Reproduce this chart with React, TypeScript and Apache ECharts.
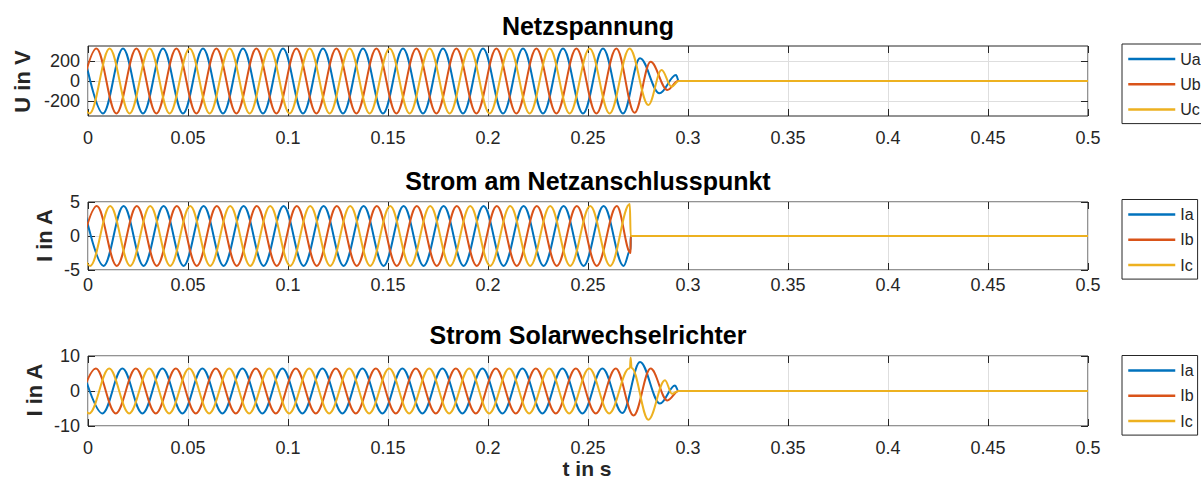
import React, { useEffect, useRef } from 'react';
import * as echarts from 'echarts';

// ---------- data (times in ms of successive extrema) ----------
const TIME_RANGE = [0, 0.5];
const TIME_STEP = 0.05;

// Netzspannung
const UA_T = [-2.5,7.5,17.5,27.5,37.5,47.5,57.5,67.5,77.5,87.5,97.5,107.5,117.5,127.5,137.5,147.5,157.5,167.5,177.5,187.5,197.5,207.5,217.5,227.5,237.5,247.5,257.5,267.5,276,285.7,294,295.4];
const UA_V = [325,-325,325,-325,325,-325,325,-325,325,-325,325,-325,325,-325,325,-325,325,-325,325,-325,325,-325,325,-325,325,-325,325,-325,227,-123,60,0];
const UB_T = [-5.8,4.2,14.2,24.2,34.2,44.2,54.2,64.2,74.2,84.2,94.2,104.2,114.2,124.2,134.2,144.2,154.2,164.2,174.2,184.2,194.2,204.2,214.2,224.2,234.2,244.2,254.2,264.2,273.3,281.3,289.7,295];
const UB_V = [-325,325,-325,325,-325,325,-325,325,-325,325,-325,325,-325,325,-325,325,-325,325,-325,325,-325,325,-325,325,-325,325,-325,325,-318,193,-90,0];
const UC_T = [-9.2,0.8,10.8,20.8,30.8,40.8,50.8,60.8,70.8,80.8,90.8,100.8,110.8,120.8,130.8,140.8,150.8,160.8,170.8,180.8,190.8,200.8,210.8,220.8,230.8,240.8,250.8,260.8,270.8,280.2,286.8,291.8,295.4];
const UC_V = [325,-325,325,-325,325,-325,325,-325,325,-325,325,-325,325,-325,325,-325,325,-325,325,-325,325,-325,325,-325,325,-325,325,-325,325,-240,110,-57,0];

// Strom am Netzanschlusspunkt
const IA2_T = [-2.2,7.8,17.8,27.8,37.8,47.8,57.8,67.8,77.8,87.8,97.8,107.8,117.8,127.8,137.8,147.8,157.8,167.8,177.8,187.8,197.8,207.8,217.8,227.8,237.8,247.8,257.8,267.8,271.3,271.35];
const IA2_V = [4.4,-4.4,4.4,-4.4,4.4,-4.4,4.4,-4.4,4.4,-4.4,4.4,-4.4,4.4,-4.4,4.4,-4.4,4.4,-4.4,4.4,-4.4,4.4,-4.4,4.4,-4.4,4.4,-4.4,4.4,-4.4,-2.0,0];
const IB2_T = [-5.6,4.4,14.4,24.4,34.4,44.4,54.4,64.4,74.4,84.4,94.4,104.4,114.4,124.4,134.4,144.4,154.4,164.4,174.4,184.4,194.4,204.4,214.4,224.4,234.4,244.4,254.4,264.4,271.3,271.35];
const IB2_V = [-4.4,4.4,-4.4,4.4,-4.4,4.4,-4.4,4.4,-4.4,4.4,-4.4,4.4,-4.4,4.4,-4.4,4.4,-4.4,4.4,-4.4,4.4,-4.4,4.4,-4.4,4.4,-4.4,4.4,-4.4,4.4,-2.5,0];
const IC2_T = [-8.9,1.1,11.1,21.1,31.1,41.1,51.1,61.1,71.1,81.1,91.1,101.1,111.1,121.1,131.1,141.1,151.1,161.1,171.1,181.1,191.1,201.1,211.1,221.1,231.1,241.1,251.1,261.1,270.9,271.35];
const IC2_V = [4.4,-4.4,4.4,-4.4,4.4,-4.4,4.4,-4.4,4.4,-4.4,4.4,-4.4,4.4,-4.4,4.4,-4.4,4.4,-4.4,4.4,-4.4,4.4,-4.4,4.4,-4.4,4.4,-4.4,4.4,-4.4,4.7,0];

// Strom Solarwechselrichter
const IA3_T = [-2.8,7.2,17.2,27.2,37.2,47.2,57.2,67.2,77.2,87.2,97.2,107.2,117.2,127.2,137.2,147.2,157.2,167.2,177.2,187.2,197.2,207.2,217.2,227.2,237.2,247.2,257.2,267.2,276,286,293.5,295.2];
const IA3_V = [6.4,-6.4,6.4,-6.4,6.4,-6.4,6.4,-6.4,6.4,-6.4,6.4,-6.4,6.4,-6.4,6.4,-6.4,6.4,-6.4,6.4,-6.4,6.4,-6.4,6.4,-6.4,6.4,-6.4,6.4,-6.3,8.3,-3.6,1.6,0];
const IB3_T = [-6.1,3.9,13.9,23.9,33.9,43.9,53.9,63.9,73.9,83.9,93.9,103.9,113.9,123.9,133.9,143.9,153.9,163.9,173.9,183.9,193.9,203.9,213.9,223.9,233.9,243.9,253.9,263.9,272.8,281.3,289.7,295.3];
const IB3_V = [-6.4,6.4,-6.4,6.4,-6.4,6.4,-6.4,6.4,-6.4,6.4,-6.4,6.4,-6.4,6.4,-6.4,6.4,-6.4,6.4,-6.4,6.4,-6.4,6.4,-6.4,6.4,-6.4,6.4,-6.4,6.4,-7.0,6.4,-2.7,0];
const IC3_T = [-9.4,0.6,10.6,20.6,30.6,40.6,50.6,60.6,70.6,80.6,90.6,100.6,110.6,120.6,130.6,140.6,150.6,160.6,170.6,180.6,190.6,200.6,210.6,220.6,230.6,240.6,250.6,260.6,270.6,271.0,271.3,271.8,280.2,288.5,292.0,295.2];
const IC3_V = [6.4,-6.4,6.4,-6.4,6.4,-6.4,6.4,-6.4,6.4,-6.4,6.4,-6.4,6.4,-6.4,6.4,-6.4,6.4,-6.4,6.4,-6.4,6.4,-6.4,6.4,-6.4,6.4,-6.4,6.4,-6.4,6.4,6.7,9.6,6.6,-8.2,3.1,-0.8,0];

const TITLES = ['Netzspannung', 'Strom am Netzanschlusspunkt', 'Strom Solarwechselrichter'];
const Y_NAMES = ['U in V', 'I in A', 'I in A'];
const X_NAME = 't in s';
const LEGENDS = [['Ua', 'Ub', 'Uc'], ['Ia', 'Ib', 'Ic'], ['Ia', 'Ib', 'Ic']];
const Y_LIMITS = [[-350, 350], [-5, 5], [-10, 10]];
const Y_TICKS = [[-200, 0, 200], [-5, 0, 5], [-10, 0, 10]];
const SERIES_T = [[UA_T, UB_T, UC_T], [IA2_T, IB2_T, IC2_T], [IA3_T, IB3_T, IC3_T]];
const SERIES_V = [[UA_V, UB_V, UC_V], [IA2_V, IB2_V, IC2_V], [IA3_V, IB3_V, IC3_V]];

// ---------- styling / layout ----------
const COLORS = ['#0072BD', '#D95319', '#EDB120'];
const AX = '#262626';
const FONT = '"Liberation Sans", Arial, sans-serif';
const GRID_TOPS = [46, 202, 356];
const GRID_HEIGHTS = [70, 68, 70];
const GRID_LEFT = 88;
const GRID_WIDTH = 1000;
const LEGEND_TOPS = [44, 199.5, 355.5];
const TITLE_Y = [26, 180.5, 335];
const YNAME_POS = [[22, 81.5], [44, 235.5], [34, 390]];
const XLABEL_MARGIN = [13, 6, 13];

function buildPoints(ts: number[], vs: number[]) {
  const pts: number[][] = ts.map((t, i) => [t / 1000, vs[i]]);
  pts.push([TIME_RANGE[1], 0]);
  return pts;
}

export default function App() {
  const ref = useRef<HTMLDivElement>(null);
  useEffect(() => {
    if (!ref.current) return;
    const chart = echarts.init(ref.current, null, { renderer: 'svg' });
    const grid: any[] = [];
    const xAxis: any[] = [];
    const yAxis: any[] = [];
    const series: any[] = [];
    const legend: any[] = [];
    const graphic: any[] = [];
    const tick = { show: true, inside: true, length: 7, lineStyle: { color: AX, width: 1 } };
    for (let g = 0; g < 3; g++) {
      grid.push({
        left: GRID_LEFT, top: GRID_TOPS[g], width: GRID_WIDTH, height: GRID_HEIGHTS[g],
        show: true, borderColor: AX, borderWidth: 1, backgroundColor: '#fff',
      });
    }
    for (let g = 0; g < 3; g++) {
      xAxis.push({
        type: 'value', gridIndex: g, position: 'bottom', min: TIME_RANGE[0], max: TIME_RANGE[1], interval: TIME_STEP,
        axisLine: { show: false, onZero: false },
        axisTick: tick,
        axisLabel: { show: true, fontSize: 18, fontFamily: FONT, color: AX, margin: XLABEL_MARGIN[g] },
        splitLine: { show: true, lineStyle: { color: '#dedede', width: 1 } },
      });
    }
    for (let g = 0; g < 3; g++) {
      xAxis.push({
        type: 'value', gridIndex: g, position: 'top', min: TIME_RANGE[0], max: TIME_RANGE[1], interval: TIME_STEP,
        axisLine: { show: false, onZero: false },
        axisTick: tick,
        axisLabel: { show: false },
        splitLine: { show: false },
      });
    }
    for (let g = 0; g < 3; g++) {
      yAxis.push({
        type: 'value', gridIndex: g, position: 'left', min: Y_LIMITS[g][0], max: Y_LIMITS[g][1],
        axisLine: { show: false, onZero: false },
        axisTick: { ...tick, customValues: Y_TICKS[g] },
        axisLabel: { show: true, fontSize: 18, fontFamily: FONT, color: AX, margin: 8, customValues: Y_TICKS[g] },
        splitLine: { show: true, lineStyle: { color: '#dedede', width: 1 } },
      });
    }
    for (let g = 0; g < 3; g++) {
      yAxis.push({
        type: 'value', gridIndex: g, position: 'right', min: Y_LIMITS[g][0], max: Y_LIMITS[g][1],
        axisLine: { show: false, onZero: false },
        axisTick: { ...tick, customValues: Y_TICKS[g] },
        axisLabel: { show: false, customValues: Y_TICKS[g] },
        splitLine: { show: false },
      });
    }
    for (let g = 0; g < 3; g++) {
      for (let s = 0; s < 3; s++) {
        series.push({
          type: 'line', name: LEGENDS[g][s], xAxisIndex: g, yAxisIndex: g,
          data: buildPoints(SERIES_T[g][s], SERIES_V[g][s]),
          symbol: 'none', showSymbol: false, smooth: 0.3634, smoothMonotone: 'x',
          lineStyle: { width: 2, color: COLORS[s] }, itemStyle: { color: COLORS[s] },
          silent: true, clip: true,
        });
      }
      legend.push({
        show: true, orient: 'vertical', left: 1122, top: LEGEND_TOPS[g], data: LEGENDS[g],
        itemWidth: 47, itemHeight: 14, itemGap: 9.3, padding: [7, 4, 6, 5],
        borderColor: AX, borderWidth: 1, backgroundColor: '#fff', selectedMode: false,
        itemStyle: { opacity: 0, borderWidth: 0 },
        lineStyle: { width: 2.5 },
        textStyle: { fontSize: 16, fontFamily: FONT, color: AX },
      });
      graphic.push({
        type: 'text', x: GRID_LEFT + GRID_WIDTH / 2, y: TITLE_Y[g], z: 100,
        style: { text: TITLES[g], font: `bold 25px ${FONT}`, fill: '#000', textAlign: 'center', textVerticalAlign: 'middle' },
      });
      graphic.push({
        type: 'text', x: YNAME_POS[g][0], y: YNAME_POS[g][1], rotation: Math.PI / 2, z: 100,
        style: { text: Y_NAMES[g], font: `bold 22px ${FONT}`, fill: AX, textAlign: 'center', textVerticalAlign: 'middle' },
      });
    }
    graphic.push({
      type: 'text', x: 587, y: 468, z: 100,
      style: { text: X_NAME, font: `bold 21px ${FONT}`, fill: AX, textAlign: 'center', textVerticalAlign: 'middle' },
    });
    chart.setOption({
      animation: false,
      backgroundColor: '#fff',
      grid, xAxis, yAxis, series, legend, graphic,
    });
    return () => chart.dispose();
  }, []);
  return <div ref={ref} style={{ position: 'absolute', left: 0, top: 0, width: 1201, height: 485 }} />;
}
